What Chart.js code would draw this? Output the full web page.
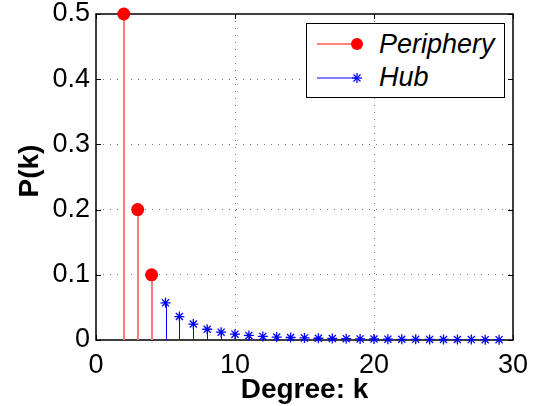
<!DOCTYPE html>
<html>
<head>
<meta charset="utf-8">
<script src="https://cdn.jsdelivr.net/npm/chart.js@4/dist/chart.umd.min.js"></script>
<style>
  html, body { margin: 0; padding: 0; background: #fff; }
  #wrap { position: relative; width: 537px; height: 406px; }
  #legend { position: absolute; left: 306px; top: 23px; width: 197px; height: 73px;
            border: 1px solid #000; background: #fff; box-sizing: content-box;
            font-family: "Liberation Sans", Arial, sans-serif; font-style: italic; font-size: 27px; color: #000; }
  #legend svg { position: absolute; left: 0; top: 0; }
  #legend .lbl { position: absolute; left: 72px; line-height: 1; white-space: nowrap; }
</style>
</head>
<body>
<div id="wrap">
  <canvas id="c" width="537" height="406"></canvas>
  <div id="legend">
    <svg width="197" height="73">
      <line x1="10" y1="20" x2="50" y2="20" stroke="#ff0000" stroke-width="1"/>
      <circle cx="50" cy="20" r="6" fill="#ff0000"/>
      <line x1="10" y1="54" x2="50" y2="54" stroke="#0000ff" stroke-width="1"/>
      <g stroke="#0000ff" stroke-width="1.3">
        <line x1="45" y1="54" x2="55" y2="54"/>
        <line x1="50" y1="49" x2="50" y2="59"/>
        <line x1="46.5" y1="50.5" x2="53.5" y2="57.5"/>
        <line x1="46.5" y1="57.5" x2="53.5" y2="50.5"/>
      </g>
    </svg>
    <span class="lbl" id="l1" style="top:7px;"></span>
    <span class="lbl" id="l2" style="top:40px;"></span>
  </div>
</div>
<script>
// ---- data ----
const seriesNames = ["Periphery", "Hub"];
const peripheryK = [2, 3, 4];
const peripheryP = [0.5, 0.2, 0.1];
const hubK = [5, 6, 7, 8, 9, 10, 11, 12, 13, 14, 15, 16, 17, 18, 19, 20, 21, 22, 23, 24, 25, 26, 27, 28, 29];
const hubP = [0.057, 0.036, 0.0245, 0.0165, 0.012, 0.009, 0.007, 0.0055, 0.0045, 0.0038, 0.0032, 0.0027,
              0.0023, 0.002, 0.0017, 0.0015, 0.0013, 0.0011, 0.001, 0.0009, 0.0008, 0.0007, 0.0006, 0.0005, 0.0005];
const xTicks = [0, 10, 20, 30];
const yTicks = [0, 0.1, 0.2, 0.3, 0.4, 0.5];
const xTitle = "Degree: k";
const yTitle = "P(k)";

document.getElementById('l1').textContent = seriesNames[0];
document.getElementById('l2').textContent = seriesNames[1];

const toPts = (xs, ys) => xs.map((x, i) => ({ x: x, y: ys[i] }));

const FONT = '"Liberation Sans", Arial, sans-serif';
const stemStyles = [
  { color: '#ff7a7a', width: 2, offset: 0 },
  { color: '#0000ff', width: 1, offset: 0.5 }
];

const stemPlugin = {
  id: 'stems',
  beforeDatasetsDraw(chart) {
    const ctx = chart.ctx;
    const xs = chart.scales.x, ys = chart.scales.y;
    const a = chart.chartArea;
    ctx.save();
    ctx.setLineDash([]);
    // frame
    ctx.strokeStyle = '#000000';
    ctx.lineWidth = 1.5;
    ctx.strokeRect(a.left, a.top, a.right - a.left, a.bottom - a.top);
    // inward ticks
    ctx.lineWidth = 1;
    ctx.beginPath();
    xTicks.forEach(v => {
      const px = Math.round(xs.getPixelForValue(v)) + 0.5;
      ctx.moveTo(px, a.bottom); ctx.lineTo(px, a.bottom - 5);
      ctx.moveTo(px, a.top); ctx.lineTo(px, a.top + 5);
    });
    yTicks.forEach(v => {
      const py = Math.round(ys.getPixelForValue(v)) + 0.5;
      ctx.moveTo(a.left, py); ctx.lineTo(a.left + 5, py);
      ctx.moveTo(a.right, py); ctx.lineTo(a.right - 5, py);
    });
    ctx.stroke();
    // stems
    const y0 = ys.getPixelForValue(0);
    chart.data.datasets.forEach((ds, i) => {
      const meta = chart.getDatasetMeta(i);
      const st = stemStyles[i];
      meta.data.forEach(pt => {
        const px = Math.round(pt.x) + st.offset;
        ctx.beginPath();
        ctx.strokeStyle = st.color;
        ctx.lineWidth = st.width;
        ctx.moveTo(px, y0);
        ctx.lineTo(px, pt.y);
        ctx.stroke();
      });
    });
    ctx.restore();
  },
  afterDraw(chart) {
    const ctx = chart.ctx;
    const a = chart.chartArea;
    ctx.save();
    ctx.translate(30, (a.top + a.bottom) / 2 - 6);
    ctx.rotate(-Math.PI / 2);
    ctx.font = 'bold 28px ' + FONT;
    ctx.fillStyle = '#000';
    ctx.textAlign = 'center';
    ctx.textBaseline = 'middle';
    ctx.fillText(yTitle, 0, 0);
    ctx.restore();
  }
};

new Chart(document.getElementById('c'), {
  type: 'scatter',
  data: {
    datasets: [
      {
        label: seriesNames[0],
        data: toPts(peripheryK, peripheryP),
        pointStyle: 'circle',
        pointRadius: 6.5,
        pointBackgroundColor: '#ff0000',
        pointBorderWidth: 0,
        clip: false
      },
      {
        label: seriesNames[1],
        data: toPts(hubK, hubP),
        pointStyle: 'star',
        pointRadius: 5,
        pointBorderColor: '#0000ff',
        pointBackgroundColor: '#0000ff',
        pointBorderWidth: 1.3,
        clip: false
      }
    ]
  },
  options: {
    responsive: false,
    animation: false,
    devicePixelRatio: 1,
    layout: { padding: { top: 14, right: 24, left: 0, bottom: 0 } },
    plugins: { legend: { display: false }, tooltip: { enabled: false } },
    scales: {
      x: {
        type: 'linear', min: 0, max: 30,
        afterBuildTicks: s => { s.ticks = xTicks.map(v => ({ value: v })); },
        afterFit: s => { s.height = 66; s.paddingLeft = 0; s.paddingRight = 0; },
        ticks: { color: '#000', font: { family: FONT, size: 27, lineHeight: 1 }, padding: 12, maxRotation: 0 },
        grid: { drawTicks: false, color: c => (c.tick && (c.tick.value === 0 || c.tick.value === 30)) ? 'rgba(0,0,0,0)' : '#777', lineWidth: 1 },
        border: { display: false, dash: [1, 6] },
        title: { display: true, text: xTitle, color: '#000', font: { family: FONT, size: 28, weight: 'bold', lineHeight: 1 }, padding: { top: 0, bottom: 2 } }
      },
      y: {
        type: 'linear', min: 0, max: 0.5,
        afterBuildTicks: s => { s.ticks = yTicks.map(v => ({ value: v })); },
        afterFit: s => { s.width = 96; s.paddingTop = 0; s.paddingBottom = 0; },
        ticks: { color: '#000', font: { family: FONT, size: 27, lineHeight: 1 }, padding: 6 },
        grid: { drawTicks: false, color: c => (c.tick && (c.tick.value === 0 || c.tick.value === 0.5)) ? 'rgba(0,0,0,0)' : '#777', lineWidth: 1 },
        border: { display: false, dash: [1, 6] },
        title: { display: false }
      }
    }
  },
  plugins: [stemPlugin]
});
</script>
</body>
</html>
